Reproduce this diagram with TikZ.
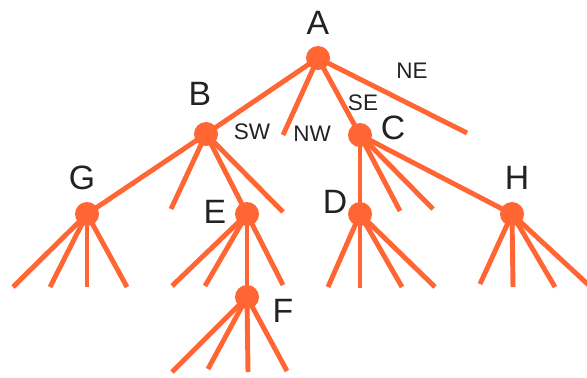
\documentclass[tikz,border=0pt]{standalone}
\usepackage{fontspec}
\setmainfont{Liberation Sans}
\definecolor{branch}{HTML}{FF6633}
\definecolor{ink}{HTML}{222222}
\tikzset{
    dot/.style={circle, fill=branch, inner sep=0pt, minimum size=0.6cm},
    edge/.style={draw=branch, line width=3.5pt},
    letter/.style={text=ink, font=\fontsize{24}{26}\selectfont},
    quad/.style={text=ink, font=\fontsize{16}{18}\selectfont}
}
\begin{document}
\begin{tikzpicture}[x=0.025cm, y=-0.025cm]
    \useasboundingbox (0,0) rectangle (587,377);

    % tree nodes
    \node[dot] (A) at (318,58) {};
    \node[dot] (B) at (206,134) {};
    \node[dot] (C) at (360,135) {};
    \node[dot] (G) at (87,214) {};
    \node[dot] (E) at (247,214) {};
    \node[dot] (D) at (360,214) {};
    \node[dot] (H) at (512,214) {};
    \node[dot] (F) at (247,297) {};

    % empty branches
    \coordinate (a2) at (283,135);
    \coordinate (a4) at (467,133);
    \coordinate (b2) at (171,209);
    \coordinate (b4) at (283,212);
    \coordinate (c2) at (400,211);
    \coordinate (c3) at (433,209);
    \coordinate (g1) at (13,287);
    \coordinate (g2) at (50,287);
    \coordinate (g3) at (87,287);
    \coordinate (g4) at (127,287);
    \coordinate (e1) at (172,286);
    \coordinate (e2) at (205,286);
    \coordinate (e4) at (283,285);
    \coordinate (f1) at (172,372);
    \coordinate (f2) at (208,369);
    \coordinate (f3) at (248,372);
    \coordinate (f4) at (287,371);
    \coordinate (d1) at (328,287);
    \coordinate (d2) at (360,288);
    \coordinate (d3) at (402,287);
    \coordinate (d4) at (435,287);
    \coordinate (h1) at (480,284);
    \coordinate (h2) at (513,287);
    \coordinate (h3) at (555,287);
    \coordinate (h4) at (594,290);

    % branches of A
    \draw[edge] (A.center) -- (B.center);
    \draw[edge] (A.center) -- (a2);
    \draw[edge] (A.center) -- (C.center);
    \draw[edge] (A.center) -- (a4);

    % branches of B
    \draw[edge] (B.center) -- (G.center);
    \draw[edge] (B.center) -- (b2);
    \draw[edge] (B.center) -- (E.center);
    \draw[edge] (B.center) -- (b4);

    % branches of C
    \draw[edge] (C.center) -- (D.center);
    \draw[edge] (C.center) -- (c2);
    \draw[edge] (C.center) -- (c3);
    \draw[edge] (C.center) -- (H.center);

    % leaves
    \draw[edge] (G.center) -- (g1);
    \draw[edge] (G.center) -- (g2);
    \draw[edge] (G.center) -- (g3);
    \draw[edge] (G.center) -- (g4);
    \draw[edge] (E.center) -- (e1);
    \draw[edge] (E.center) -- (e2);
    \draw[edge] (E.center) -- (F.center);
    \draw[edge] (E.center) -- (e4);
    \draw[edge] (F.center) -- (f1);
    \draw[edge] (F.center) -- (f2);
    \draw[edge] (F.center) -- (f3);
    \draw[edge] (F.center) -- (f4);
    \draw[edge] (D.center) -- (d1);
    \draw[edge] (D.center) -- (d2);
    \draw[edge] (D.center) -- (d3);
    \draw[edge] (D.center) -- (d4);
    \draw[edge] (H.center) -- (h1);
    \draw[edge] (H.center) -- (h2);
    \draw[edge] (H.center) -- (h3);
    \draw[edge] (H.center) -- (h4);

    % node letters
    \node[letter] (labA) at (318,23) {A};
    \node[letter] (labB) at (200,94) {B};
    \node[letter] (labC) at (393,128) {C};
    \node[letter] (labG) at (82,178) {G};
    \node[letter] (labE) at (215,212) {E};
    \node[letter] (labD) at (335,202) {D};
    \node[letter] (labH) at (517,178) {H};
    \node[letter] (labF) at (283,311) {F};

    % quadrant names
    \node[quad] (sw) at (252,132) {SW};
    \node[quad] (nw) at (312,134) {NW};
    \node[quad] (se) at (363,103) {SE};
    \node[quad] (ne) at (412,71) {NE};
\end{tikzpicture}
\end{document}
